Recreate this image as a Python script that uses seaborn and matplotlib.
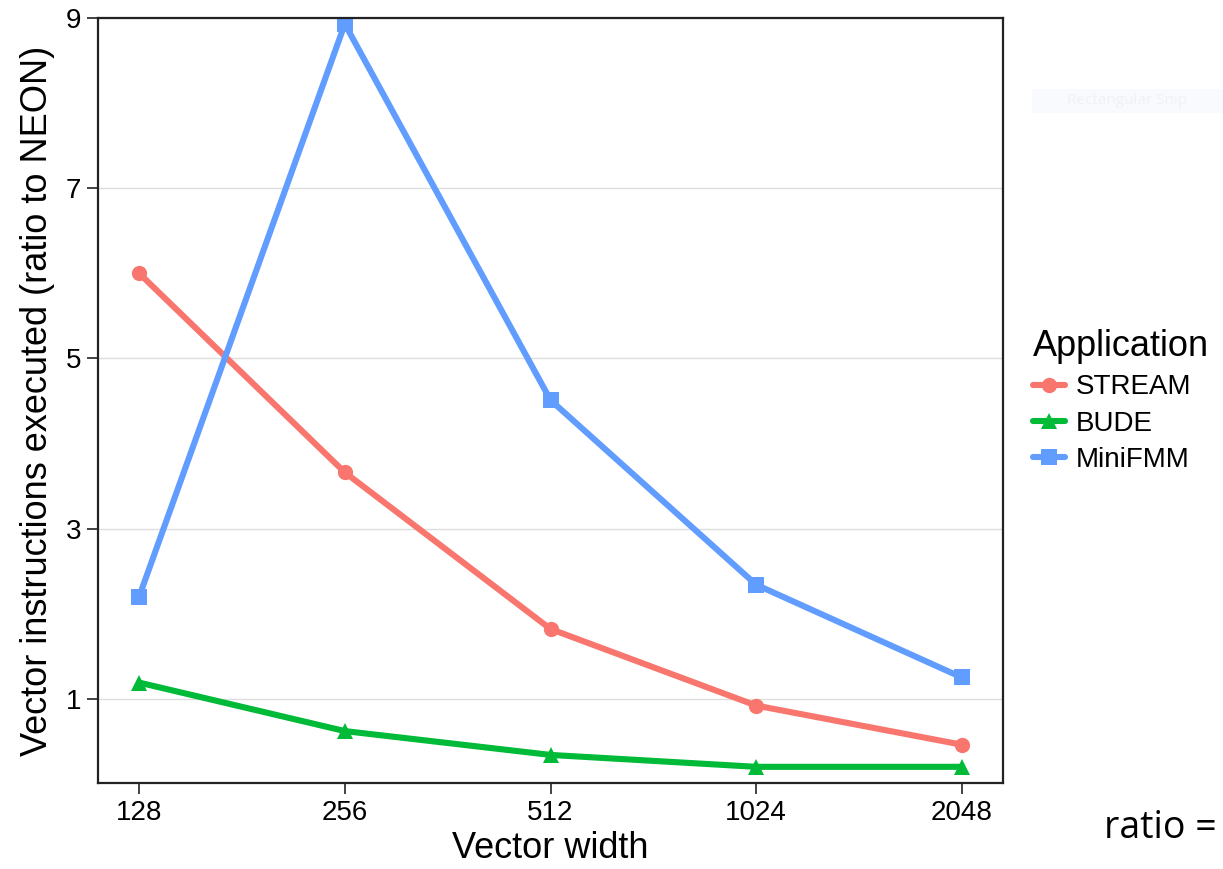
import matplotlib
matplotlib.use("Agg")
import matplotlib.pyplot as plt
import matplotlib.patches as mpatches
import seaborn as sns
import pandas as pd

widths = ["128", "256", "512", "1024", "2048"]
apps = ["STREAM", "BUDE", "MiniFMM"]
stream = [6.0, 3.66, 1.82, 0.92, 0.46]
bude = [1.19, 0.62, 0.34, 0.2, 0.2]
minifmm = [2.2, 8.93, 4.51, 2.34, 1.25]
colors = ["#F8766D", "#00BA38", "#619CFF"]
yticks = [1, 3, 5, 7, 9]

rows = []
for app, vals in zip(apps, [stream, bude, minifmm]):
    for i, (w, v) in enumerate(zip(widths, vals)):
        rows.append({"Application": app, "pos": i, "Vector width": w, "value": v})
df = pd.DataFrame(rows)

sns.set_theme(style="white")
plt.rcParams["font.family"] = ["Liberation Sans", "DejaVu Sans"]
plt.rcParams["text.color"] = "black"

fig = plt.figure(figsize=(12.23, 8.69), dpi=100)
ax = fig.add_axes([98/1223, 1-783/869, (1003-98)/1223, (783-18)/869])

sns.lineplot(data=df, x="pos", y="value", hue="Application", style="Application",
             hue_order=apps, style_order=apps, palette=colors,
             markers=["o", "^", "s"], dashes=False, sort=False,
             linewidth=4.4, markersize=11, markeredgewidth=0, ax=ax)

ax.set_xlim(-0.2, 4.2)
ax.set_ylim(0.01, 9)
ax.set_xticks(range(len(widths)))
ax.set_xticklabels(widths)
ax.set_yticks(yticks)
ax.yaxis.grid(True, color="#DDDDDD", linewidth=1)
ax.xaxis.grid(False)
for s in ax.spines.values():
    s.set_color("#222222")
    s.set_linewidth(1.6)
ax.tick_params(axis="both", which="major", direction="out", length=8, width=1.2,
               color="#222222", labelsize=20, labelcolor="black", pad=4,
               bottom=True, left=True)
ax.set_xlabel("Vector width", fontsize=26, color="black", labelpad=4)
ax.set_ylabel("Vector instructions executed (ratio to NEON)", fontsize=26,
              color="black", labelpad=8)

handles, labels = ax.get_legend_handles_labels()
leg = ax.legend(handles, labels, title="Application", loc="upper left",
                bbox_to_anchor=(1022/1223, 1-318/869), bbox_transform=fig.transFigure,
                frameon=False, fontsize=20, title_fontsize=26, handlelength=1.15,
                handletextpad=0.4, labelspacing=0.37, borderaxespad=0,
                labelcolor="black")
leg.get_title().set_color("black")
leg._legend_box.align = "left"

# faint screenshot artefact
fig.patches.append(mpatches.Rectangle((1032/1223, 1-113/869), 191/1223, 24/869,
                   transform=fig.transFigure, facecolor="#F9FAFD", edgecolor="none"))
fig.text(1067/1223, 1-101/869, "Rectangular Snip", fontsize=11, color="#EEF1F6",
         va="center", ha="left", family=["Open Sans", "DejaVu Sans"])

fig.text(1104/1223, 1-828/869, "ratio =", fontsize=27, color="black",
         va="center", ha="left", family=["Open Sans", "DejaVu Sans"])

fig.savefig("out.png", dpi=100, facecolor="white")
